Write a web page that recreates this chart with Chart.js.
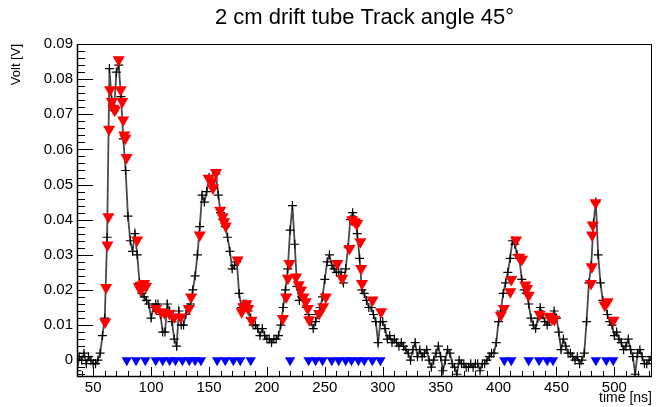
<!DOCTYPE html>
<html>
<head>
<meta charset="utf-8">
<script src="https://cdn.jsdelivr.net/npm/chart.js@4/dist/chart.umd.min.js"></script>
<style>
  body { margin: 0; background: #fff; }
  #wrap { width: 659px; height: 407px; }
</style>
</head>
<body>
<div id="wrap"><canvas id="drift-chart"></canvas></div>
<script>
// waveform samples, 2 ns clock starting at 36 ns
const tStart = 36;
const tStep = 2;
const voltage = [
  -0.003, 0.001, 0.000, 0.002, -0.001, 0.001, 0.000, -0.001, -0.001, 0.000,   // 36-54
  0.002, 0.007, 0.012, 0.035, 0.083, 0.074, 0.071, 0.082, 0.084, 0.075,      // 56-74
  0.063, 0.054, 0.041, 0.034, 0.031, 0.036, 0.030, 0.022, 0.019, 0.018,      // 76-94
  0.017, 0.016, 0.012, 0.015, 0.016, 0.016, 0.013, 0.008, 0.008, 0.016,      // 96-114
  0.014, 0.011, 0.006, 0.004, 0.014, 0.010, 0.010, 0.013, 0.015, 0.016,      // 116-134
  0.020, 0.024, 0.030, 0.038, 0.047, 0.045, 0.048, 0.052, 0.051, 0.049,      // 136-154
  0.053, 0.047, 0.042, 0.040, 0.038, 0.035, 0.031, 0.026, 0.027, 0.028,      // 156-174
  0.019, 0.015, 0.016, 0.016, 0.014, 0.012, 0.010, 0.010, 0.009, 0.007,      // 176-194
  0.009, 0.007, 0.006, 0.006, 0.005, 0.006, 0.006, 0.007, 0.010, 0.015,      // 196-214
  0.020, 0.026, 0.037, 0.044, 0.033, 0.021, 0.017, 0.018, 0.017, 0.015,      // 216-234
  0.013, 0.011, 0.009, 0.011, 0.013, 0.015, 0.018, 0.023, 0.028, 0.030,      // 236-254
  0.027, 0.026, 0.025, 0.025, 0.025, 0.022, 0.026, 0.032, 0.040, 0.042,      // 256-274
  0.040, 0.036, 0.029, 0.020, 0.019, 0.017, 0.015, 0.015, 0.013, 0.011,      // 276-294
  0.005, 0.011, 0.011, 0.009, 0.006, 0.007, 0.005, 0.006, 0.005, 0.004,      // 296-314
  0.005, 0.004, 0.003, 0.002, 0.000, 0.003, 0.005, 0.001, 0.003, 0.001,      // 316-334
  0.002, 0.003, 0.000, -0.002, 0.000, 0.002, 0.004, 0.001, -0.003, 0.000,    // 336-354
  0.003, 0.002, -0.001, -0.002, -0.004, 0.000, -0.001, -0.001, -0.002, -0.002, // 356-374
  -0.001, -0.002, -0.001, -0.001, -0.003, -0.001, -0.001, 0.000, 0.001, 0.002, // 376-394
  0.002, 0.005, 0.011, 0.014, 0.019, 0.022, 0.025, 0.029, 0.034, 0.033,      // 396-414
  0.030, 0.029, 0.023, 0.020, 0.019, 0.016, 0.012, 0.010, 0.009, 0.012,      // 416-434
  0.015, 0.013, 0.011, 0.010, 0.011, 0.012, 0.014, 0.012, 0.008, 0.003,      // 436-454
  0.006, 0.004, 0.002, 0.002, 0.001, 0.000, 0.001, -0.001, 0.000, 0.002,     // 456-474
  0.011, 0.022, 0.027, 0.039, 0.045, 0.030, 0.022, 0.017, 0.016, 0.013,      // 476-494
  0.011, 0.010, 0.007, 0.008, 0.006, 0.005, 0.003, 0.004, 0.006, 0.003,      // 496-514
  0.001, -0.004, 0.002, 0.003, 0.001, -0.001, -0.001, 0.000, 0.001           // 516-532
];

// found hits (red)
const hitTimes = [
  60.3, 61.1, 62.3, 63.1, 63.7, 64.6, 66.1, 67.4, 68.8, 72.0, 73.7, 75.1, 75.9, 76.8, 77.7, 78.8,
  87.9, 89.5, 91.0, 92.5, 94.0, 95.5, 104.3, 108.7, 111.4, 115.8, 119.9, 125.6, 132.6, 134.5,
  142.0, 149.7, 152.5, 153.4, 156.0, 159.7, 161.7, 163.1, 164.5, 174.7, 178.2, 179.6, 182.4, 183.9, 186.7,
  213.8, 216.6, 218.1, 219.5, 225.1, 227.5, 229.5, 231.5, 233.5, 235.2, 236.5,
  245.1, 248.6, 250.8, 260.8, 265.0, 271.3, 273.6, 275.9, 277.9, 280.7, 281.3, 282.1, 291.2, 298.6,
  401.9, 404.6, 410.2, 411.0, 415.1, 417.9, 420.3, 423.1, 424.6, 426.0, 435.5, 443.5, 446.3, 448.2,
  479.8, 480.6, 480.8, 481.4, 483.8, 491.6, 494.2, 499.2
];
const hitVolts = [
  0.0109, 0.0207, 0.0328, 0.0408, 0.0657, 0.0770, 0.0736, 0.0717, 0.0712, 0.0855, 0.0770, 0.0736, 0.0684, 0.0641, 0.0632, 0.0577,
  0.0342, 0.0210, 0.0200, 0.0214, 0.0218, 0.0210, 0.0147, 0.0138, 0.0135, 0.0133, 0.0123, 0.0123, 0.0147, 0.0180,
  0.0356, 0.0518, 0.0508, 0.0490, 0.0534, 0.0427, 0.0408, 0.0394, 0.0382, 0.0285, 0.0138, 0.0152, 0.0161, 0.0147, 0.0114,
  0.0119, 0.0180, 0.0233, 0.0275, 0.0237, 0.0215, 0.0200, 0.0180, 0.0166, 0.0147, 0.0115,
  0.0133, 0.0152, 0.0180, 0.0275, 0.0233, 0.0318, 0.0400, 0.0394, 0.0389, 0.0337, 0.0261, 0.0218, 0.0171, 0.0138,
  0.0128, 0.0147, 0.0195, 0.0230, 0.0342, 0.0293, 0.0287, 0.0214, 0.0204, 0.0185, 0.0131, 0.0125, 0.0119, 0.0116,
  0.0218, 0.0266, 0.0356, 0.0385, 0.0448, 0.0157, 0.0166, 0.0114
];

// cluster markers on the baseline (blue)
const clusterTimes = [
  79, 87, 95, 104, 110, 116, 121, 127, 133, 138, 143,
  157, 164, 171, 177, 186,
  220,
  236, 242, 248, 256, 262, 268, 273, 279, 284, 291, 298,
  405, 411, 426, 435, 442, 447,
  484, 493, 499
];

const xTicks = [50, 100, 150, 200, 250, 300, 350, 400, 450, 500];
const yTicks = [0, 0.01, 0.02, 0.03, 0.04, 0.05, 0.06, 0.07, 0.08, 0.09];

const FONT = "'Liberation Sans', Arial, Helvetica, sans-serif";

const wave = voltage.map((v, i) => ({ x: tStart + i * tStep, y: v }));
const hits = hitTimes.map((t, i) => ({ x: t, y: hitVolts[i] }));
const clusters = clusterTimes.map(t => ({ x: t, y: 0 }));

// ROOT style frame with ticks on the inside
const rootFrame = {
  id: 'rootFrame',
  afterDatasetsDraw(chart) {
    const { ctx, chartArea: a, scales } = chart;
    const xs = scales.x, ys = scales.y;
    ctx.save();
    ctx.strokeStyle = '#000';
    ctx.lineWidth = 1;
    ctx.strokeRect(a.left + 0.5, a.top + 0.5, a.right - a.left - 1, a.bottom - a.top);
    ctx.beginPath();
    for (let k = -2; k <= 45; k++) {
      const v = k * 0.002;
      const y = Math.round(ys.getPixelForValue(v)) + 0.5;
      const len = (k % 5 === 0) ? 16 : 8;
      ctx.moveTo(a.left, y);
      ctx.lineTo(a.left + len, y);
    }
    for (let t = 40; t <= 530; t += 10) {
      const x = Math.round(xs.getPixelForValue(t)) + 0.5;
      const len = (t % 50 === 0) ? 9 : 5;
      ctx.moveTo(x, a.bottom);
      ctx.lineTo(x, a.bottom - len);
    }
    ctx.stroke();
    ctx.lineWidth = 1.5;
    ctx.beginPath();
    ctx.moveTo(a.left + 0.5, a.top);
    ctx.lineTo(a.left + 0.5, a.bottom + 0.5);
    ctx.lineTo(a.right, a.bottom + 0.5);
    ctx.stroke();
    ctx.restore();
  }
};

new Chart(document.getElementById('drift-chart'), {
  type: 'scatter',
  data: {
    datasets: [
      {
        label: 'hits',
        data: hits,
        pointStyle: 'triangle',
        rotation: 180,
        pointRadius: 7,
        backgroundColor: '#ff0000',
        borderColor: '#ff0000',
        borderWidth: 0,
        order: 1
      },
      {
        label: 'clusters',
        data: clusters,
        pointStyle: 'triangle',
        rotation: 180,
        pointRadius: 6,
        backgroundColor: '#0000ff',
        borderColor: '#0000ff',
        borderWidth: 0,
        order: 2
      },
      {
        label: 'signal',
        data: wave,
        showLine: true,
        borderColor: '#4a4a4a',
        borderWidth: 1.8,
        pointStyle: 'cross',
        pointRadius: 4.5,
        pointBorderColor: '#000',
        pointBorderWidth: 1.2,
        order: 3
      }
    ]
  },
  options: {
    responsive: true,
    maintainAspectRatio: false,
    animation: false,
    layout: { padding: { left: 0, right: 1, top: 0, bottom: 0 } },
    plugins: {
      legend: { display: false },
      tooltip: { enabled: false },
      title: {
        display: true,
        text: '2 cm drift tube Track angle 45°',
        fullSize: false,
        color: '#000',
        font: { family: FONT, size: 22, weight: 'normal' },
        padding: { top: 5, bottom: 12.6 }
      }
    },
    scales: {
      x: {
        type: 'linear',
        min: 36,
        max: 532.5,
        afterFit: s => { s.height = 31; },
        afterBuildTicks: s => { s.ticks = xTicks.map(v => ({ value: v })); },
        grid: { display: false, drawTicks: false },
        border: { display: false },
        ticks: {
          color: '#000',
          padding: 3,
          maxRotation: 0,
          font: { family: FONT, size: 15 }
        },
        title: {
          display: true,
          text: 'time [ns]',
          align: 'end',
          color: '#000',
          font: { family: FONT, size: 14 },
          padding: { top: 0, bottom: 0 }
        }
      },
      y: {
        min: -0.0045,
        max: 0.09,
        afterFit: s => { s.width = 77; },
        afterBuildTicks: s => { s.ticks = yTicks.map(v => ({ value: v })); },
        grid: { display: false, drawTicks: false },
        border: { display: false },
        ticks: {
          color: '#000',
          padding: 4,
          font: { family: FONT, size: 15 },
          callback: v => v === 0 ? '0' : v.toFixed(2)
        },
        title: {
          display: true,
          text: 'Volt [V]',
          align: 'end',
          color: '#000',
          font: { family: FONT, size: 13 },
          padding: { top: 9, bottom: 0 }
        }
      }
    }
  },
  plugins: [rootFrame]
});
</script>
</body>
</html>
